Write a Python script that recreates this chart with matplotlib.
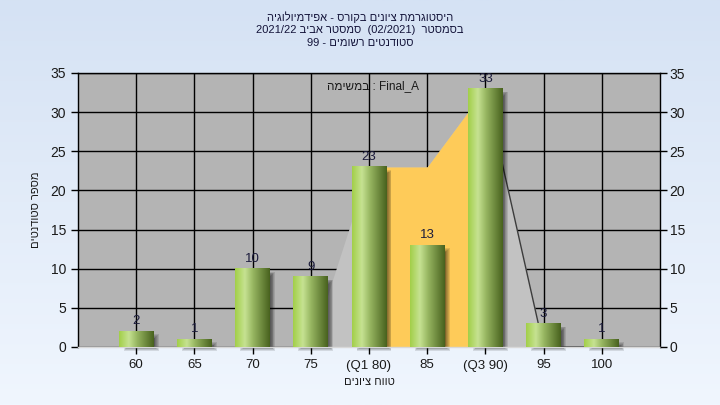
import numpy as np
import matplotlib
matplotlib.use("Agg")
import matplotlib.pyplot as plt
from matplotlib.colors import LinearSegmentedColormap
from matplotlib.patches import Rectangle

plt.rcParams['font.family'] = ['Liberation Sans', 'DejaVu Sans']

# ---------------- data ----------------
categories = ['60', '65', '70', '75', '(Q1 80)', '85', '(Q3 90)', '95', '100']
counts = [2, 1, 10, 9, 23, 13, 33, 3, 1]

# background range polygon (light grey) and inter-quartile polygon (orange)
range_idx = [3, 4, 5, 6, 7]
range_vals = [0, 23, 23, 33, 0]
iqr_idx = [4, 5, 6]
iqr_vals = [23, 23, 33]
edge_idx = [6, 7, 8]
edge_vals = [33, 0, 0]

title_lines = [
    "היסטוגרמת ציונים בקורס - אפידמיולוגיה",
    "בסמסטר  (02/2021)  סמסטר אביב 2021/22",
    "סטודנטים רשומים - 99",
]
ylabel_text = "מספר סטודנטים"
xlabel_text = "טווח ציונים"
note_text = "במשימה : Final_A"

yticks = [0, 5, 10, 15, 20, 25, 30, 35]


def visual(s):
    """Very small bidi: RTL paragraph, Hebrew words reversed, LTR tokens kept."""
    toks = s.split(' ')
    out = []
    for t in toks[::-1]:
        if any('\u0590' <= c <= '\u05ff' for c in t):
            out.append(t[::-1])
        else:
            out.append(t)
    return ' '.join(out)


def visual_note(s):
    heb, ltr = s.split(' : ')
    return heb[::-1] + ' : ' + ltr


# ---------------- figure ----------------
W, H = 720, 405
fig = plt.figure(figsize=(W / 100, H / 100), dpi=100)

# gradient background
bg = fig.add_axes([0, 0, 1, 1], zorder=-10)
grad = np.linspace(0, 1, 256).reshape(-1, 1)
bg_cmap = LinearSegmentedColormap.from_list('bg', ['#d5e2f4', '#f0f6fe'])
bg.imshow(grad, aspect='auto', cmap=bg_cmap, extent=[0, 1, 0, 1], origin='upper')
bg.set_axis_off()

L, R, T, B = 78, 660, 73, 347
ax = fig.add_axes([L / W, 1 - B / H, (R - L) / W, (B - T) / H])
ax.set_facecolor('#b4b4b4')
ax.set_axisbelow(True)

n = len(categories)
xs = np.arange(n)
xmin, xmax = -1, n
ymin, ymax = 0, 35
px_x = (xmax - xmin) / (R - L)
px_y = (ymax - ymin) / (B - T)

# background polygons
ax.fill_between([xs[i] for i in range_idx], 0, range_vals, color='#c2c2c2', lw=0, zorder=1)
ax.fill_between([xs[i] for i in iqr_idx], 0, iqr_vals, color='#fecb59', lw=0, zorder=1.1)
ax.plot([xs[i] for i in edge_idx], edge_vals, color='#3c3c3c', lw=1.0, zorder=1.2)

# grid
ax.grid(True, color='black', lw=1.0)

# bars
bw = 0.6
bar_cmap = LinearSegmentedColormap.from_list(
    'bar', [(0.0, '#a2cf48'), (0.28, '#c6e292'), (0.5, '#9ab964'), (1.0, '#48621e')])
g = bar_cmap(np.linspace(0, 1, 128)).reshape(1, 128, 4)

dx, dy = 5 * px_x, 4 * px_y
for i, v in zip(xs, counts):
    x0, x1 = i - bw / 2, i + bw / 2
    # soft shadow
    for k in range(6):
        m = k * px_x * 0.8
        my = k * px_y * 0.8
        ax.add_patch(Rectangle((x0 + dx + m, -dy + my), bw - 2 * m, v - 2 * my + px_y,
                               facecolor='black', alpha=0.11, lw=0, zorder=2, clip_on=False))
    ax.imshow(g, extent=(x0, x1, 0, v), aspect='auto', zorder=3, interpolation='bilinear')
    ax.text(i, v + 0.5, str(v), ha='center', va='bottom', fontsize=9.5, color='#1c1c3c', zorder=4)

ax.set_xlim(xmin, xmax)
ax.set_ylim(ymin, ymax)
ax.set_xticks(xs)
ax.set_xticklabels(categories)
ax.set_yticks(yticks)
ax.tick_params(axis='both', direction='out', length=5, width=1, color='black',
               labelsize=10, labelcolor='#1a1a1a')
ax.tick_params(axis='x', labelsize=9.5, pad=4)
for s in ['left', 'right', 'top']:
    ax.spines[s].set_color('black')
    ax.spines[s].set_linewidth(1)
ax.spines['bottom'].set_color('#d8d8d8')
ax.spines['bottom'].set_linewidth(1)

ax2 = ax.twinx()
ax2.set_ylim(ymin, ymax)
ax2.set_yticks(yticks)
ax2.tick_params(axis='y', direction='out', length=5, width=1, color='black',
                labelsize=10, labelcolor='#1a1a1a', pad=2)
for s in ax2.spines.values():
    s.set_visible(False)

ax.set_xlabel(visual(xlabel_text), fontsize=8, color='#1a1a1a', labelpad=4)
ax.set_ylabel(visual(ylabel_text), fontsize=8, color='#1a1a1a', labelpad=7)

ax.text(0.5 + 4 / (R - L), 0.953, visual_note(note_text), transform=ax.transAxes,
        ha='center', va='center', fontsize=8.5, color='#1a1a1a', zorder=5)

for k, line in enumerate(title_lines):
    fig.text(360 / W, 1 - (17 + 13 * k) / H, visual(line), ha='center', va='center',
             fontsize=8, color='#14143a')

fig.savefig('out.png', dpi=100)
